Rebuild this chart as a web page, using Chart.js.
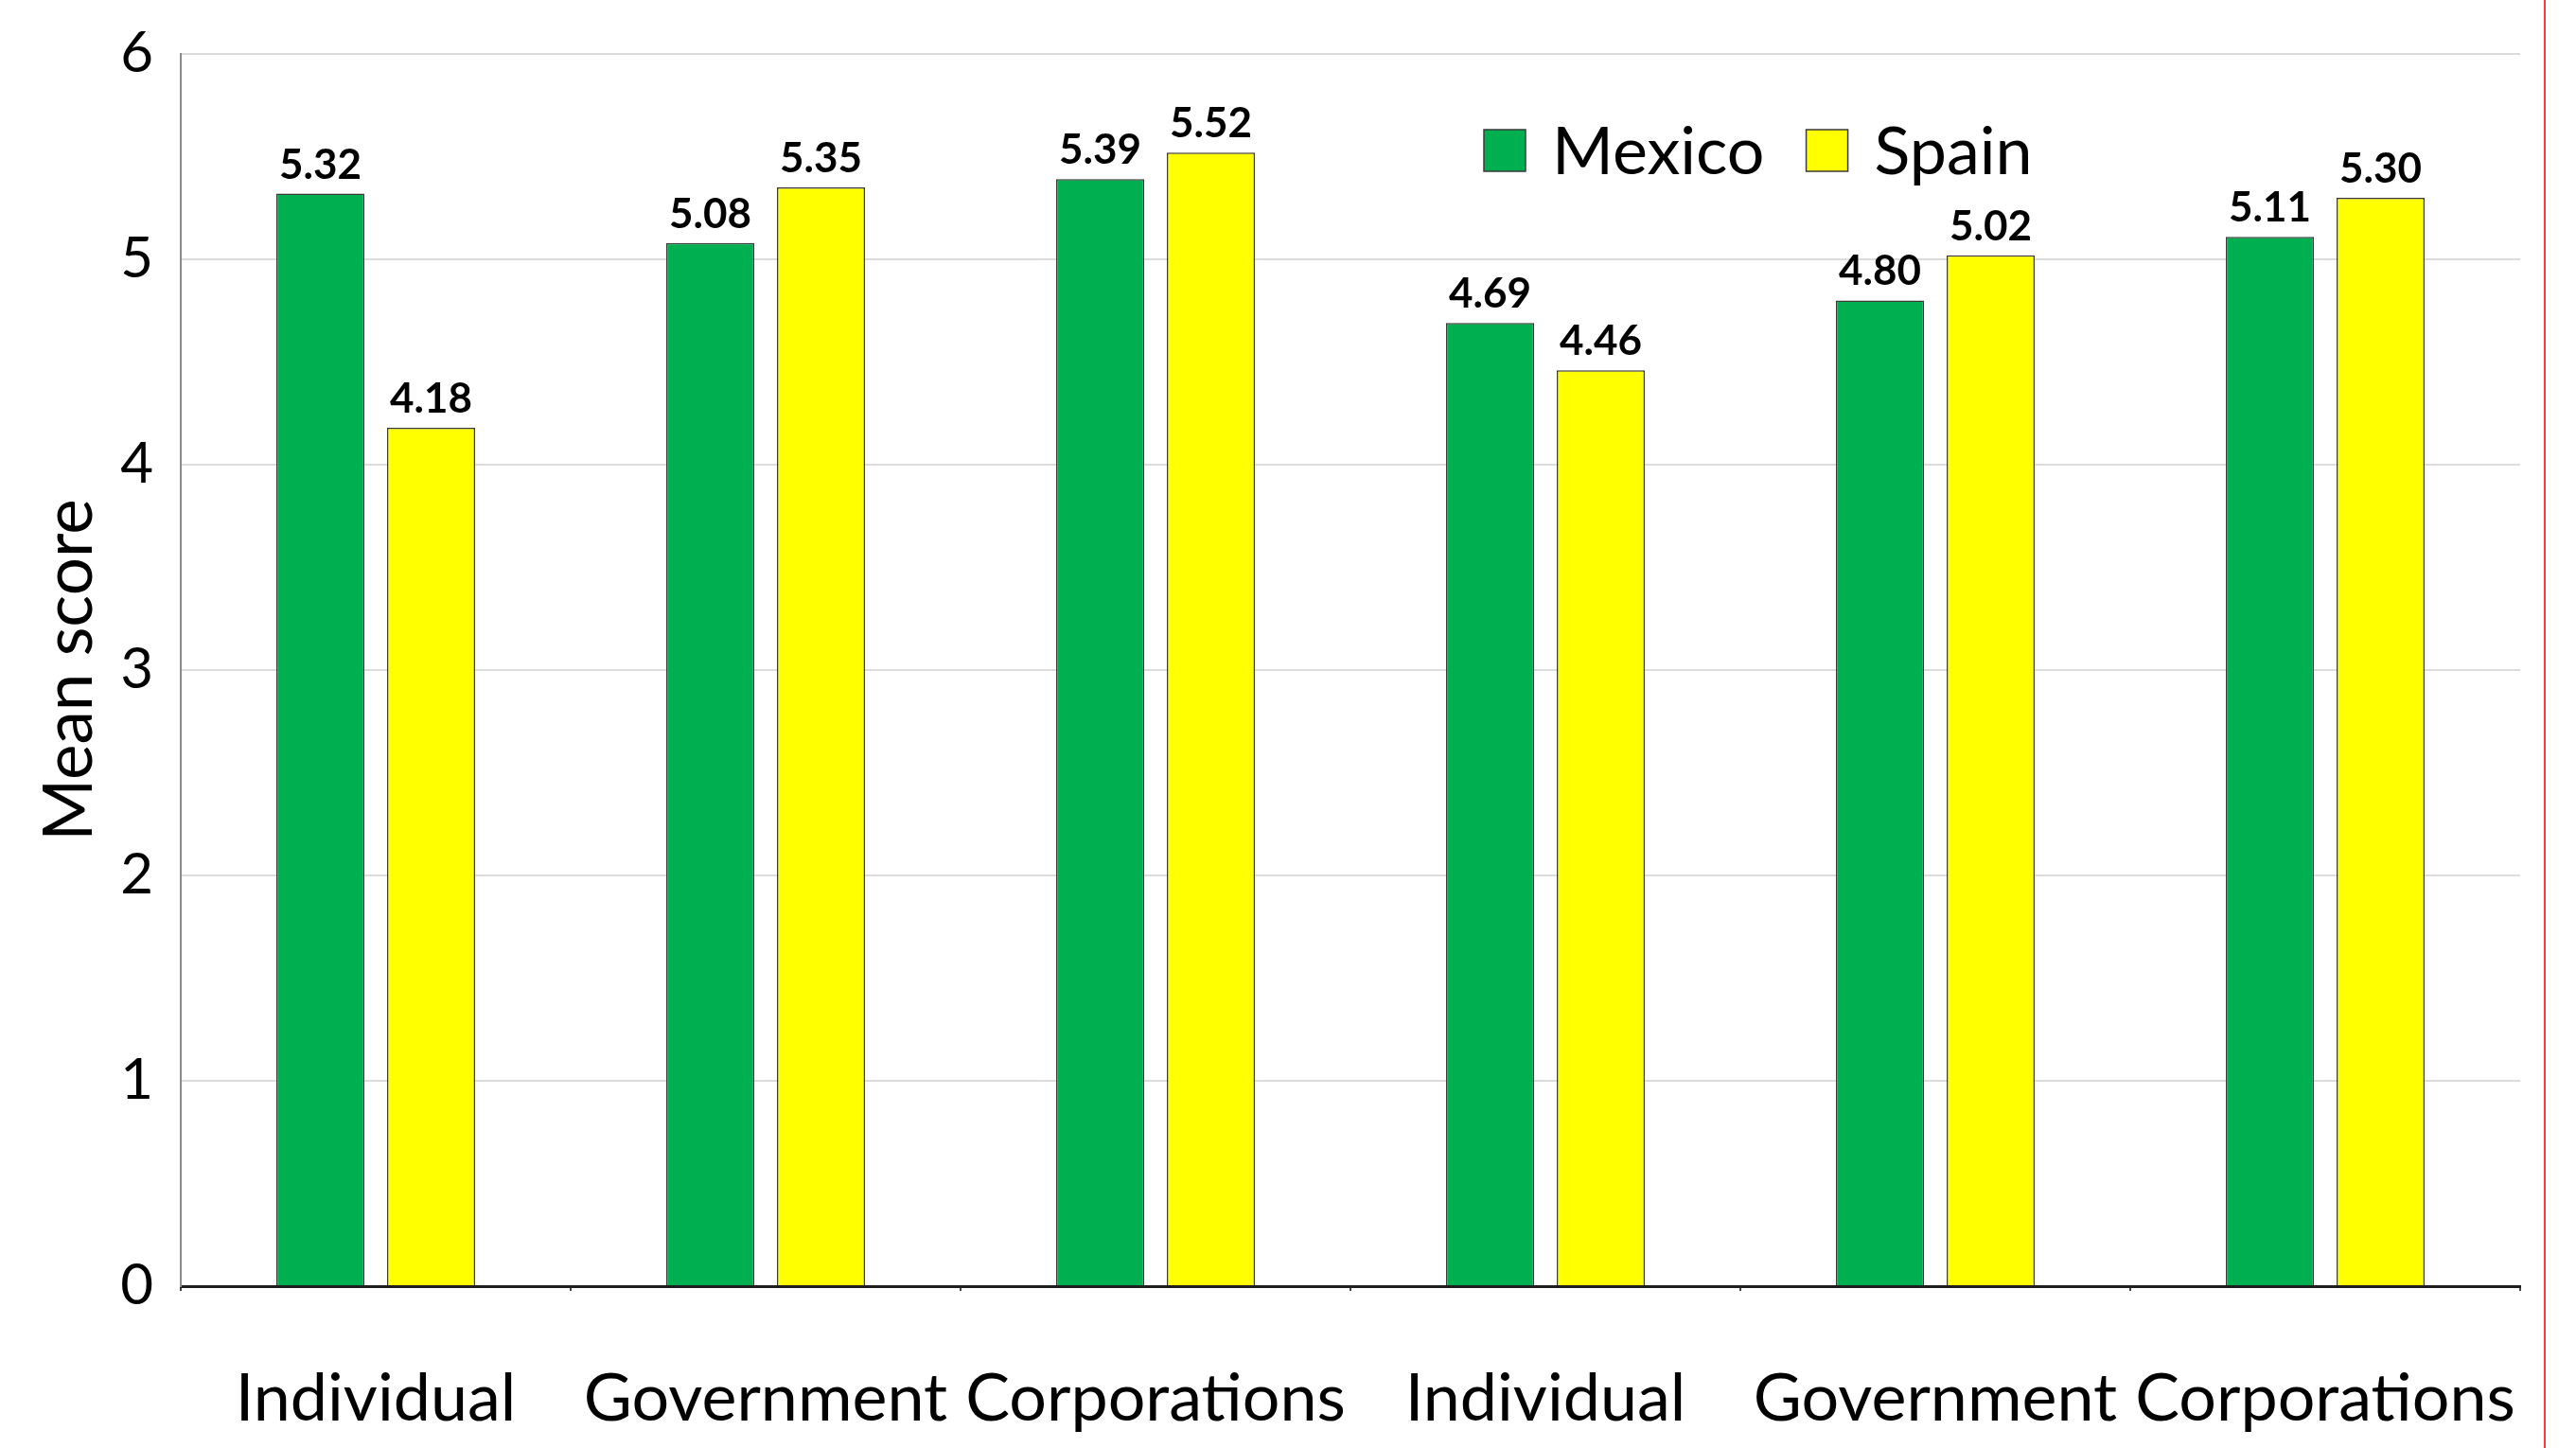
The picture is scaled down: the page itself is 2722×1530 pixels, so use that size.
<!DOCTYPE html>
<html>
<head>
<meta charset="utf-8">
<script src="https://cdn.jsdelivr.net/npm/chart.js@4.4.1/dist/chart.umd.min.js"></script>
<style>
  html, body { margin: 0; padding: 0; background: #fff; }
  #wrap { position: relative; width: 2722px; height: 1530px; }
  #edge { position: absolute; left: 2688px; top: 0; width: 2px; height: 1530px; background: #ff3a3a; }
</style>
</head>
<body>
<div id="wrap">
  <canvas id="scoreChart"></canvas>
  <div id="edge"></div>
</div>
<script>
// Categories and mean scores per country
const categories = ['Individual', 'Government', 'Corporations', 'Individual', 'Government', 'Corporations'];
const mexicoScores = [5.32, 5.08, 5.39, 4.69, 4.80, 5.11];
const spainScores = [4.18, 5.35, 5.52, 4.46, 5.02, 5.30];
const yTicks = [0, 1, 2, 3, 4, 5, 6];

const FONT = 'Lato, "Open Sans", sans-serif';
const GREEN = '#00b050';
const YELLOW = '#ffff00';

// Value labels above each bar
const barLabels = {
    id: 'barLabels',
    afterDatasetsDraw(chart) {
        const c = chart.ctx;
        c.save();
        c.font = 'bold 44px ' + FONT;
        c.fillStyle = '#000';
        c.textAlign = 'center';
        c.textBaseline = 'alphabetic';
        chart.data.datasets.forEach((ds, i) => {
            chart.getDatasetMeta(i).data.forEach((bar, j) => {
                c.fillText(ds.data[j].toFixed(2), bar.x, bar.y - 16);
            });
        });
        c.restore();
    }
};

// Legend drawn inside the plot area
const innerLegend = {
    id: 'innerLegend',
    afterDraw(chart) {
        const c = chart.ctx;
        const area = chart.chartArea;
        let x = area.left + 1377;
        const cy = area.top + 102;
        const box = 44;
        c.save();
        c.font = '70px ' + FONT;
        c.textBaseline = 'middle';
        c.textAlign = 'left';
        chart.data.datasets.forEach(ds => {
            c.fillStyle = ds.backgroundColor;
            c.fillRect(x, cy - box / 2, box, box);
            c.strokeStyle = '#3a3a3a';
            c.lineWidth = 1.5;
            c.strokeRect(x, cy - box / 2, box, box);
            c.fillStyle = '#000';
            c.fillText(ds.label, x + box + 28, cy + 2);
            x += box + 28 + c.measureText(ds.label).width + 44;
        });
        c.restore();
    }
};

// fixed axis boxes, no extra room for label overflow
function fixX(s) {
    s.height = 171;
    s.paddingLeft = 0;
    s.paddingRight = 0;
}
function fixY(s) {
    s.width = 191;
    s.paddingTop = 0;
    s.paddingBottom = 0;
}

const ctx = document.getElementById('scoreChart').getContext('2d');
new Chart(ctx, {
    type: 'bar',
    data: {
        labels: categories,
        datasets: [
            {
                label: 'Mexico',
                data: mexicoScores,
                backgroundColor: GREEN,
                borderColor: '#3a3a3a',
                borderWidth: 1.5,
                categoryPercentage: 0.568,
                barPercentage: 0.795
            },
            {
                label: 'Spain',
                data: spainScores,
                backgroundColor: YELLOW,
                borderColor: '#3a3a3a',
                borderWidth: 1.5,
                categoryPercentage: 0.568,
                barPercentage: 0.795
            }
        ]
    },
    options: {
        responsive: true,
        maintainAspectRatio: false,
        devicePixelRatio: 1,
        animation: false,
        layout: { padding: { top: 57, right: 59, left: 0, bottom: 0 } },
        plugins: {
            legend: { display: false },
            tooltip: { enabled: false }
        },
        scales: {
            x: {
                afterFit: fixX,
                grid: { display: true, drawOnChartArea: false, drawTicks: true, tickLength: 5, color: '#444', lineWidth: 2 },
                border: { display: true, color: '#1e1e1e', width: 3 },
                ticks: { font: { family: FONT, size: 70 }, color: '#000', padding: 72, maxRotation: 0, autoSkip: false }
            },
            y: {
                min: 0,
                max: 6,
                afterFit: fixY,
                afterBuildTicks: s => { s.ticks = yTicks.map(v => ({ value: v })); },
                grid: { color: '#dcdcdc', lineWidth: 2, drawTicks: false },
                border: { display: true, color: '#8a8a8a', width: 2 },
                ticks: { font: { family: FONT, size: 60 }, color: '#000', padding: 29 },
                title: {
                    display: true,
                    text: 'Mean score',
                    font: { family: FONT, size: 71 },
                    color: '#000',
                    padding: { top: 32, bottom: 0 }
                }
            }
        }
    },
    plugins: [barLabels, innerLegend]
});
</script>
</body>
</html>
